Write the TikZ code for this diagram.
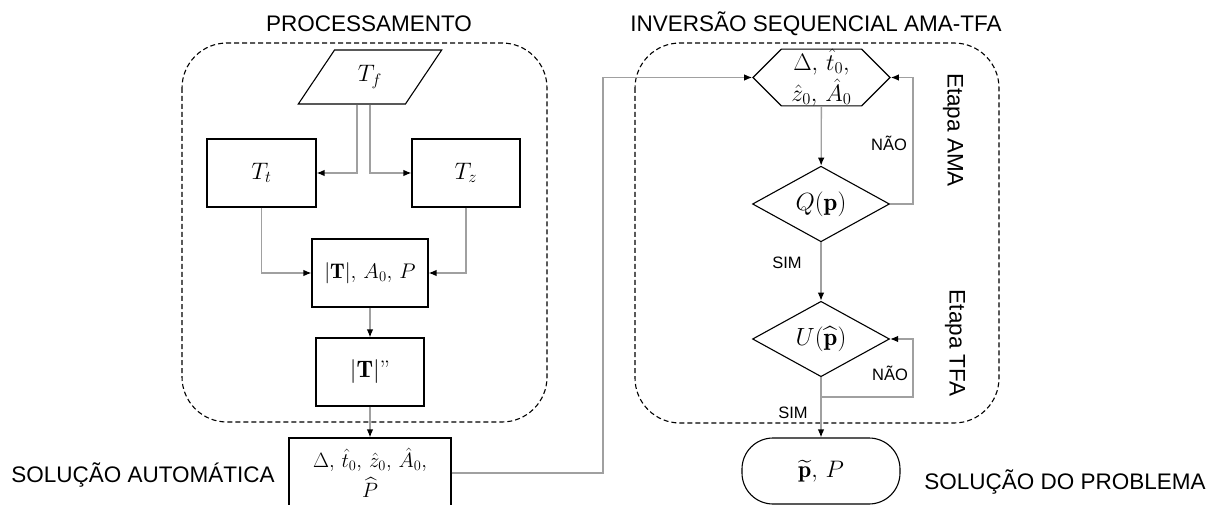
\RequirePackage{fix-cm}
\documentclass[tikz,border=0pt]{standalone}
\usepackage{amsmath}
\usepackage{graphicx}
\usepackage{fontspec}
\newfontfamily\arial{Liberation Sans}
\usetikzlibrary{arrows.meta,shapes.geometric,shapes.symbols}
\definecolor{wiregray}{HTML}{A0A0A0}
% enlarged formula text inside the flowchart shapes
\newcommand{\mtxt}[2][1.15]{\scalebox{#1}{#2}}

\begin{document}
\begin{tikzpicture}[x=1pt,y=-1pt,
  shapeline/.style={draw=black, line width=1.1pt, inner sep=0pt,
    font=\fontsize{20.74}{22}\selectfont},
  box/.style={shapeline, rectangle},
  frame/.style={draw=black, line width=1.1pt, dash pattern=on 5pt off 3pt, rounded corners=45pt},
  wire/.style={draw=wiregray, line width=1.3pt},
  arr/.style={wire, -{Latex[length=8pt,width=6.5pt,color=black]}},
  title/.style={font=\arial\fontsize{22.5}{26}\selectfont, inner sep=0pt},
  small/.style={font=\arial\fontsize{16.5}{19}\selectfont, inner sep=0pt}]
\useasboundingbox (0,0) rectangle (1216,505);

% dashed groups
\draw[frame] (182,43) rectangle (547,422);
\draw[frame] (635,43) rectangle (999,423);

% titles and side captions
\node[title] (tproc) at (369,24) {PROCESSAMENTO};
\node[title] (tinv) at (816,24) {INVERSÃO SEQUENCIAL AMA-TFA};
\node[title] (tauto) at (143,475) {SOLUÇÃO AUTOMÁTICA};
\node[title] (tsol) at (1065,482) {SOLUÇÃO DO PROBLEMA};
\node[title, rotate=-90] (tama) at (953,130) {Etapa AMA};
\node[title, rotate=-90] (ttfa) at (955,343) {Etapa TFA};

% processing chain
\node[shapeline, trapezium, trapezium left angle=62, trapezium right angle=118,
  trapezium stretches=true, minimum width=144, minimum height=54] (tf) at (370,77) {\mtxt{$T_f$}};
\node[box, minimum width=109, minimum height=68] (tt) at (261.5,173) {\mtxt{$T_t$}};
\node[box, minimum width=108, minimum height=68] (tz) at (466,173) {\mtxt{$T_z$}};
\node[box, minimum width=116, minimum height=68] (tap) at (370,273) {\mtxt[1.02]{$|\mathbf{T}|,\,A_0,\,P$}};
\node[box, minimum width=108, minimum height=68] (tpp) at (370,372) {\mtxt{$|\mathbf{T}|$''}};
\node[box, minimum width=162, minimum height=70] (auto) at (370,473)
  {\shortstack{\mtxt[1.0]{$\Delta,\,\hat{t}_0,\,\hat{z}_0,\,\hat{A}_0,$}\\[3pt]\mtxt[1.0]{$\widehat{P}$}}};

% sequential inversion
\node[shapeline, signal, signal to=west and east, signal pointer angle=90,
  minimum width=137, minimum height=55] (hex) at (821.5,77.5)
  {\shortstack{\mtxt{$\Delta,\,\hat{t}_0,$}\\[1pt]\mtxt{$\hat{z}_0,\,\hat{A}_0$}}};
\node[shapeline, diamond, minimum width=137, minimum height=70] (q) at (821,204) {\mtxt[1.2]{$Q(\mathbf{p})$}};
\node[shapeline, diamond, minimum width=137, minimum height=70] (u) at (821,339) {\mtxt[1.2]{$U(\widehat{\mathbf{p}})$}};
\node[shapeline, rectangle, rounded corners=31pt, minimum width=158, minimum height=66] (sol) at (821,471)
  {\mtxt{$\widetilde{\mathbf{p}},\,P$}};

% routing helpers
\coordinate (rail) at (603,0);
\coordinate (loopx) at (913,0);
\coordinate (loopy) at (0,397);

% connectors
\draw[arr] ([xshift=-13pt]tf.south) |- (tt.east);
\draw[arr] (tf.south) |- (tz.west);
\draw[arr] (tt.south) |- (tap.west);
\draw[arr] (tz.south) |- (tap.east);
\draw[arr] (tap) -- (tpp);
\draw[arr] (tpp) -- (auto);
\draw[arr] (auto.east) -- (auto.east -| rail) -- (rail |- hex.west) -- (hex.west);
\draw[arr] (hex) -- (q);
\draw[arr] (q.east) -- (q.east -| loopx) -- (loopx |- hex.east) -- (hex.east);
\draw[arr] (q) -- (u);
\draw[arr] (u.south) -- (u.south |- loopy) -- (loopx |- loopy) -- (loopx |- u.east) -- (u.east);
\draw[arr] (u) -- (sol);

% branch labels
\node[small] (nao1) at (889,143) {NÃO};
\node[small] (sim1) at (787,263) {SIM};
\node[small] (nao2) at (890,373) {NÃO};
\node[small] (sim2) at (793,413) {SIM};
\end{tikzpicture}
\end{document}
